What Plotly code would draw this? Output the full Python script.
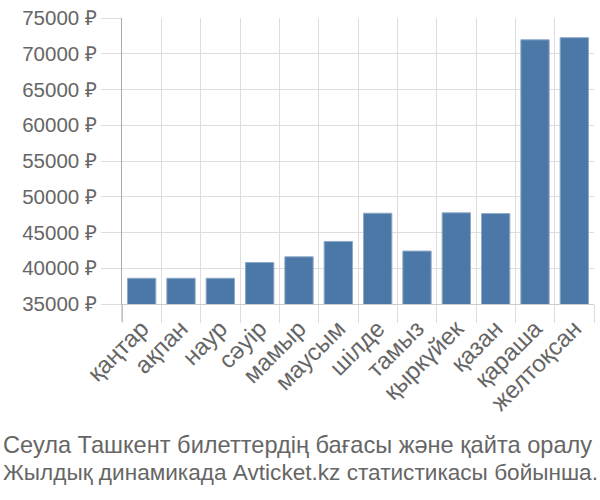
import plotly.graph_objects as go

months = ["қаңтар", "ақпан", "наур", "сәуір", "мамыр", "маусым", "шілде",
          "тамыз", "қыркүйек", "қазан", "қараша", "желтоқсан"]
prices = [38600, 38600, 38600, 40800, 41600, 43750, 47700,
          42400, 47750, 47650, 71950, 72250]
y_ticks = [35000, 40000, 45000, 50000, 55000, 60000, 65000, 70000, 75000]
y_labels = [f"{v} ₽" for v in y_ticks]
title_lines = ["Сеула Ташкент билеттердің бағасы және қайта оралу",
               "Жылдық динамикада Avticket.kz статистикасы бойынша."]

W, H = 600, 500
L, R, T, B = 122, 6, 14, 196
ph = H - T - B
pw = W - L - R

fig = go.Figure(go.Bar(
    x=months, y=prices,
    marker=dict(color="#4c78a8", line=dict(color="#8fa9c8", width=1)),
    width=0.72,
))

font = "Liberation Sans, Arial, sans-serif"
fig.update_layout(
    width=W, height=H,
    margin=dict(l=L, r=R, t=T, b=B),
    plot_bgcolor="white", paper_bgcolor="white",
    showlegend=False,
    font=dict(family=font, color="#666666", size=20),
    xaxis=dict(
        type="category", tickson="boundaries", showgrid=True,
        gridcolor="#dddddd", gridwidth=1,
        ticks="outside", ticklen=18, tickcolor="#dddddd",
        tickangle=-45, tickfont=dict(size=24, color="#666666"),
        showline=True, linecolor="#cccccc", linewidth=1,
        range=[-0.5, 11.5],
    ),
    yaxis=dict(
        range=[35000, 75000], tickvals=y_ticks, ticktext=y_labels,
        showgrid=True, gridcolor="#dddddd", gridwidth=1,
        ticks="outside", ticklen=20, tickcolor="#dddddd",
        tickfont=dict(size=20.5, color="#666666"),
        showline=True, linecolor="#aaaaaa", linewidth=1,
        zeroline=False,
    ),
    annotations=[
        dict(
            text=title_lines[0],
            xref="paper", yref="paper",
            x=(1 - L) / pw, y=(T + ph - 447) / ph,
            xanchor="left", yanchor="middle", align="left",
            showarrow=False,
            font=dict(size=23.6, color="#666666", family=font),
        ),
        dict(
            text=title_lines[1],
            xref="paper", yref="paper",
            x=(1 - L) / pw, y=(T + ph - 475) / ph,
            xanchor="left", yanchor="middle", align="left",
            showarrow=False,
            font=dict(size=22.6, color="#666666", family=font),
        ),
    ],
    shapes=[dict(
        type="line", xref="paper", yref="paper",
        x0=0, x1=0, y0=0, y1=-18 / ph,
        line=dict(color="#aaaaaa", width=1),
    )],
)

fig.write_html("out.html")
